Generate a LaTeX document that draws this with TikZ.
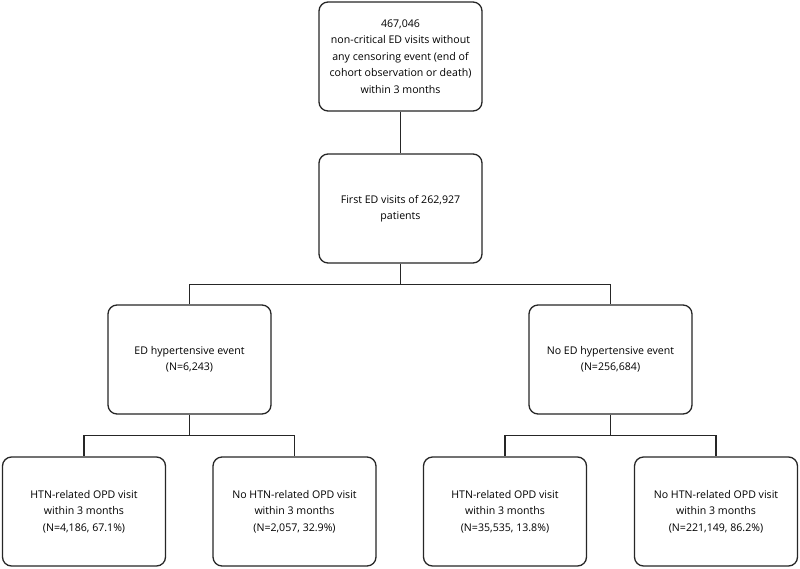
\documentclass[tikz,border=0pt]{standalone}
\usepackage{fontspec}
\setmainfont{Open Sans}
\usepackage{tikz}
\usetikzlibrary{positioning}

\begin{document}
\begin{tikzpicture}[
    x=1pt, y=-1pt,
    line/.style={line width=1.3pt, draw=black!85},
    box/.style={rectangle, rounded corners=9pt, draw=black!85, line width=1.3pt, fill=white,
        minimum width=163pt, minimum height=109pt, align=center,
        font=\fontsize{10.6}{16.5}\selectfont},
]
    \useasboundingbox (0,0) rectangle (800,568);

    \node[box] (all) at (400.5,56.5) {467,046\\non-critical ED visits without\\any censoring event (end of\\cohort observation or death)\\within 3 months};
    \node[box] (first) at (400.5,208.5) {First ED visits of 262,927\\patients};

    \node[box] (hyp) at (189.5,359.5) {ED hypertensive event\\(N=6,243)};
    \node[box] (nohyp) at (610.5,359.5) {No ED hypertensive event\\(N=256,684)};

    \node[box] (hypopd) at (84,511.5) {HTN-related OPD visit\\within 3 months\\(N=4,186, 67.1\%)};
    \node[box] (hypnoopd) at (294.5,511.5) {No HTN-related OPD visit\\within 3 months\\(N=2,057, 32.9\%)};
    \node[box] (nohypopd) at (505,511.5) {HTN-related OPD visit\\within 3 months\\(N=35,535, 13.8\%)};
    \node[box] (nohypnoopd) at (716,511.5) {No HTN-related OPD visit\\within 3 months\\(N=221,149, 86.2\%)};

    \draw[line] (all) -- (first);

    \draw[line] (first.south) -- ++(0,21) coordinate (split1);
    \draw[line] (split1) -| (hyp.north);
    \draw[line] (split1) -| (nohyp.north);

    \draw[line] (hyp.south) -- ++(0,21) coordinate (split2);
    \draw[line] (split2) -| (hypopd.north);
    \draw[line] (split2) -| (hypnoopd.north);

    \draw[line] (nohyp.south) -- ++(0,21) coordinate (split3);
    \draw[line] (split3) -| (nohypopd.north);
    \draw[line] (split3) -| (nohypnoopd.north);

\end{tikzpicture}
\end{document}
